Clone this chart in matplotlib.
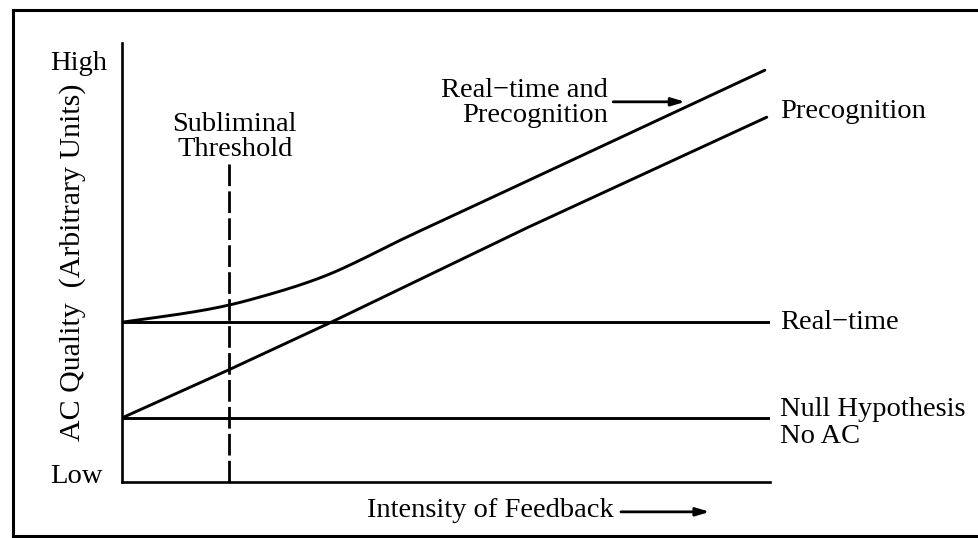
import matplotlib
matplotlib.use("Agg")
import numpy as np
import matplotlib.pyplot as plt
from matplotlib.lines import Line2D

plt.rcParams['font.family'] = ['Liberation Serif', 'DejaVu Serif']

# ---- data (arbitrary units) ----
realtime_x = [0.0, 10.0]
realtime_y = [3.64, 3.64]

null_x = [0.0, 10.0]
null_y = [1.46, 1.46]

precog_x = [0.0, 1.64, 3.20, 6.25, 9.95]
precog_y = [1.46, 2.55, 3.62, 5.79, 8.31]

combined_x = [0.0, 1.00, 1.65, 2.24, 2.75, 3.21, 3.67, 4.34, 5.49, 9.92]
combined_y = [3.64, 3.85, 4.03, 4.26, 4.49, 4.74, 5.05, 5.54, 6.33, 9.38]

threshold_x = 1.65
threshold_top = 7.27


def smooth_path(xs, ys, n=24):
    """Catmull-Rom rendering through the read points (display smoothing only)."""
    p = np.column_stack([xs, ys]).astype(float)
    p = np.vstack([2 * p[0] - p[1], p, 2 * p[-1] - p[-2]])
    out = []
    t = np.linspace(0, 1, n, endpoint=False)[:, None]
    for i in range(1, len(p) - 2):
        p0, p1, p2, p3 = p[i - 1], p[i], p[i + 1], p[i + 2]
        seg = 0.5 * ((2 * p1) + (-p0 + p2) * t +
                     (2 * p0 - 5 * p1 + 4 * p2 - p3) * t ** 2 +
                     (-p0 + 3 * p1 - 3 * p2 + p3) * t ** 3)
        out.append(seg)
    out.append(p[-2][None, :])
    out = np.vstack(out)
    return out[:, 0], out[:, 1]


W, H = 979, 538
fig = plt.figure(figsize=(W / 100, H / 100), dpi=100)
fig.patch.set_facecolor('white')

ax_left, ax_right, ax_top, ax_bottom = 122, 770, 43, 482
ax = fig.add_axes([ax_left / W, 1 - ax_bottom / H,
                   (ax_right - ax_left) / W, (ax_bottom - ax_top) / H])
ax.set_xlim(0, 10)
ax.set_ylim(0, 10)
for s in ['top', 'right']:
    ax.spines[s].set_visible(False)
for s in ['left', 'bottom']:
    ax.spines[s].set_linewidth(1.9)
    ax.spines[s].set_color('black')
ax.set_xticks([])
ax.set_yticks([])

lw = 2.1
ax.plot(realtime_x, realtime_y, color='black', lw=lw, solid_capstyle='butt')
ax.plot(null_x, null_y, color='black', lw=lw, solid_capstyle='butt')
ax.plot(precog_x, precog_y, color='black', lw=lw, solid_capstyle='round',
        solid_joinstyle='round')
cx, cy = smooth_path(combined_x, combined_y)
ax.plot(cx, cy, color='black', lw=lw, solid_capstyle='round',
        solid_joinstyle='round')
ax.plot([threshold_x, threshold_x], [0, threshold_top], color='black', lw=2.0,
        dashes=(7.8, 1.9))

fs = 20.5
tk = dict(fontsize=fs, color='black', clip_on=False)
ax.text(1.74, 7.86, "Subliminal\nThreshold", ha='center', va='center',
        linespacing=1.02, **tk)
ax.text(-1.11, 9.39, "High", ha='left', va='baseline', **tk)
ax.text(-1.11, -0.02, "Low", ha='left', va='baseline', **tk)
ax.text(-0.76, 5.0, "AC Quality  (Arbitrary Units)", rotation=90,
        ha='center', va='center', fontsize=21.5, color='black', clip_on=False)
ax.text(5.68, -0.64, "Intensity of Feedback", ha='center', va='center', **tk)
arrow_kw = dict(arrowstyle='-|>,head_length=0.8,head_width=0.24',
                color='black', lw=2.0, shrinkA=0, shrinkB=0)
ax.annotate("", xy=(9.07, -0.68), xytext=(7.70, -0.68),
            arrowprops=arrow_kw, annotation_clip=False)

ax.text(7.50, 8.63, "Real−time and\nPrecognition", ha='right', va='center',
        linespacing=0.98, **tk)
ax.annotate("", xy=(8.69, 8.66), xytext=(7.58, 8.66),
            arrowprops=arrow_kw, annotation_clip=False)

ax.text(10.15, 8.43, "Precognition", ha='left', va='center', **tk)
ax.text(10.15, 3.64, "Real−time", ha='left', va='center', **tk)
ax.text(10.15, 1.34, "Null Hypothesis\nNo AC", ha='left', va='center',
        linespacing=1.1, **tk)

# outer frame (left, top, bottom; right side runs off the image)
flw = 2.2
fx0 = 13 / W
fy_top = 1 - 10 / H
fy_bot = 1 - 536 / H
fig.add_artist(Line2D([fx0, fx0], [fy_bot, fy_top], color='black', lw=flw,
                      transform=fig.transFigure))
fig.add_artist(Line2D([fx0, 1.0], [fy_top, fy_top], color='black', lw=flw,
                      transform=fig.transFigure))
fig.add_artist(Line2D([fx0, 1.0], [fy_bot, fy_bot], color='black', lw=flw,
                      transform=fig.transFigure))

fig.savefig("out.png", dpi=100, facecolor='white')
